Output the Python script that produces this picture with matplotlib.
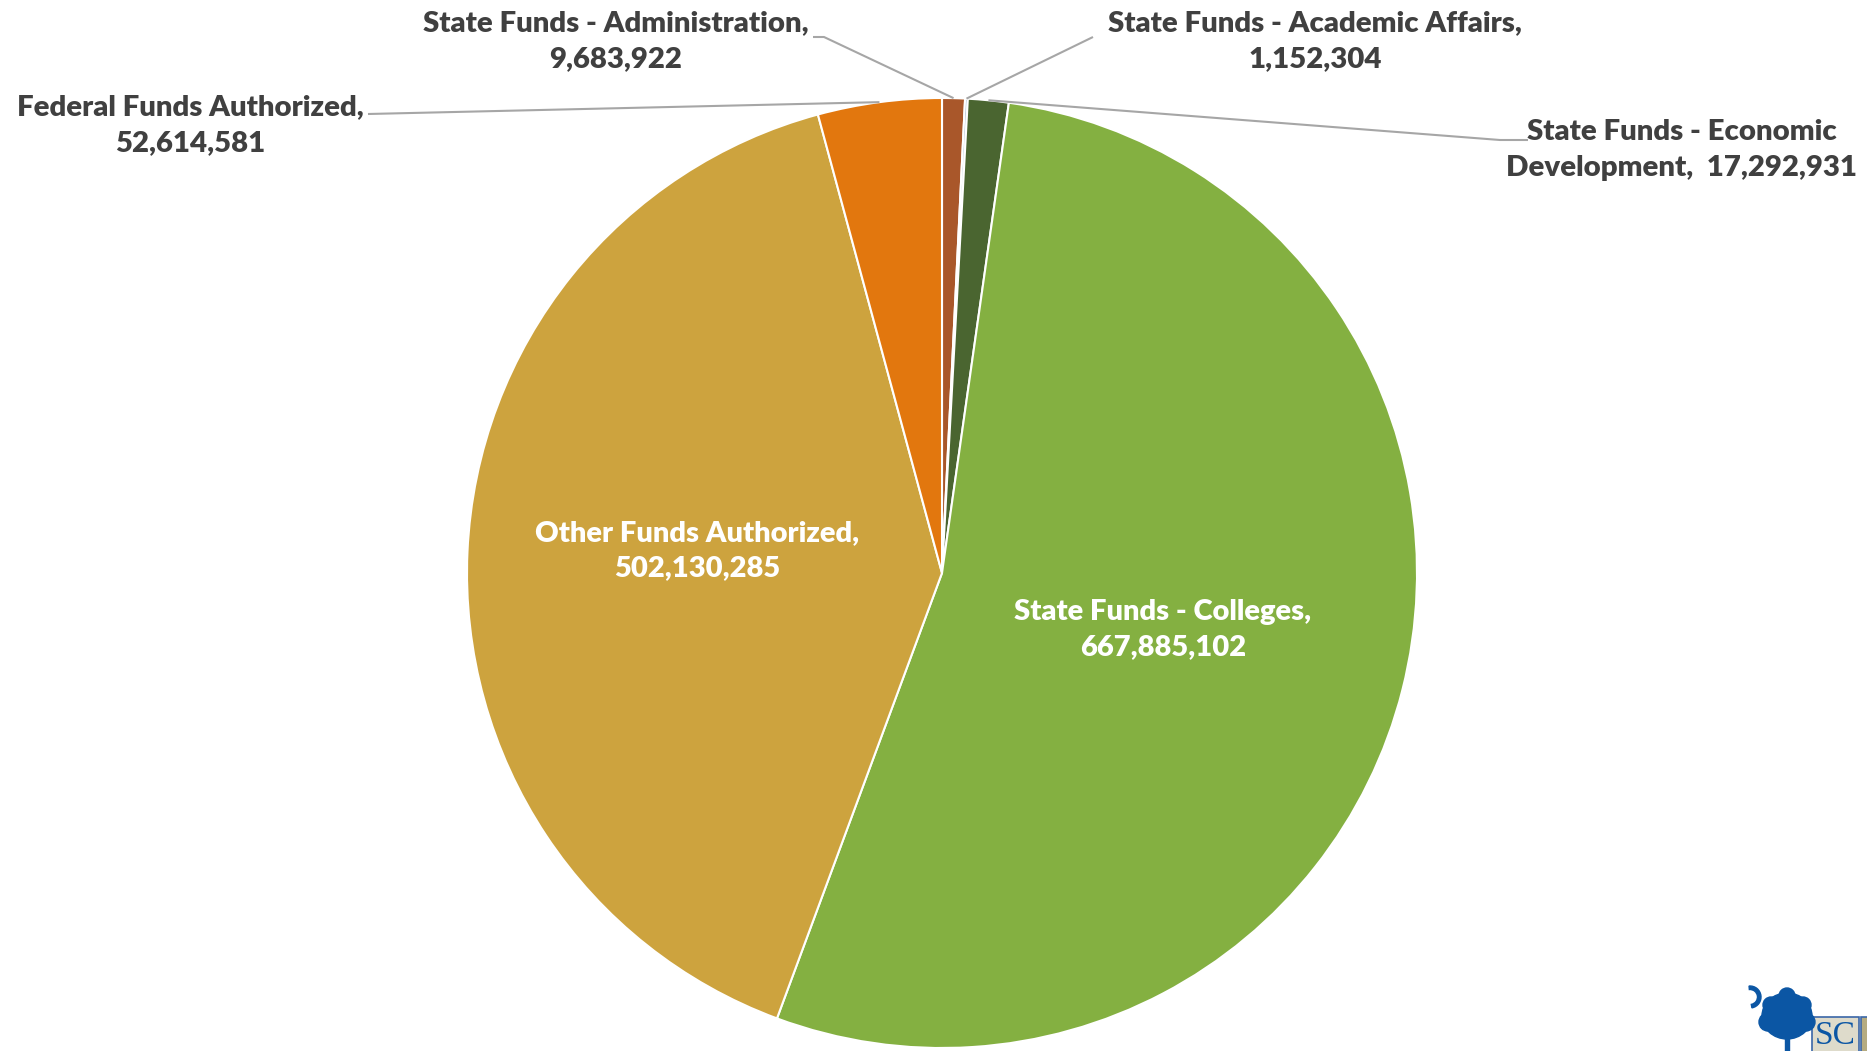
import matplotlib
matplotlib.use("Agg")
import matplotlib.pyplot as plt
from matplotlib.patches import Circle, Rectangle, Ellipse, Wedge
import numpy as np

W, H = 1867, 1051

labels = ["State Funds - Administration", "State Funds - Academic Affairs",
          "State Funds - Economic Development", "State Funds - Colleges",
          "Other Funds Authorized", "Federal Funds Authorized"]
values = [9683922, 1152304, 17292931, 667885102, 502130285, 52614581]
colors = ["#A9572A", "#9DB2C8", "#4A6530", "#84B041", "#CDA33E", "#E2770E"]

font = ["Lato", "DejaVu Sans"]
txt_col = "#404040"
line_col = "#A6A6A6"

fig = plt.figure(figsize=(W / 100, H / 100), dpi=100)
ax = fig.add_axes([0, 0, 1, 1])

cx, cy, r = 942, H - 573, 475
wedges, _ = ax.pie(values, colors=colors, startangle=90, counterclock=False,
                   center=(cx, cy), radius=r,
                   wedgeprops=dict(edgecolor="white", linewidth=1.5))
ax.set_xlim(0, W)
ax.set_ylim(0, H)
ax.set_aspect("equal")
ax.axis("off")


def edge_point(w):
    a = np.deg2rad((w.theta1 + w.theta2) / 2)
    return cx + r * np.cos(a), cy + r * np.sin(a)


def fmt(v):
    return "{:,}".format(v)


# labels inside the two big wedges
ax.text(697, H - 551, "Other Funds Authorized,\n" + fmt(values[4]),
        ha="center", va="center", color="white", fontsize=21,
        fontweight="heavy", family=font, linespacing=1.43)
ax.text(1163, H - 630, "State Funds - Colleges,\n" + fmt(values[3]),
        ha="center", va="center", color="white", fontsize=21,
        fontweight="heavy", family=font, linespacing=1.43)

# outside labels with leader lines
outer = [
    (0, "State Funds - Administration,\n" + fmt(values[0]), (616, H - 41), [(813, H - 37), (824, H - 37)]),
    (1, "State Funds - Academic Affairs,\n" + fmt(values[1]), (1315, H - 41), [(1093, H - 37)]),
    (2, "State Funds - Economic\nDevelopment,  " + fmt(values[2]), (1682, H - 150), [(1528, H - 140), (1500, H - 140)]),
    (5, "Federal Funds Authorized,\n" + fmt(values[5]), (190, H - 125), [(368, H - 114)]),
]
for i, text, (tx, ty), pts in outer:
    ax.text(tx, ty, text, ha="center", va="center", color=txt_col,
            fontsize=21.2, fontweight="heavy", family=font, linespacing=1.47)
    ex, ey = edge_point(wedges[i])
    xs = [p[0] for p in pts] + [ex]
    ys = [p[1] for p in pts] + [ey]
    ax.plot(xs, ys, color=line_col, lw=1.5, solid_capstyle="butt")

# state logo in the corner
blue = "#0B56A4"
ax.add_patch(Wedge((1750, H - 997), 11, -80, 95, width=3.5, color=blue, zorder=5))
ax.add_patch(Ellipse((1787, H - 1016), 50, 46, color=blue, zorder=5))
for (x, y, rr) in [(1768, H - 1022, 9), (1806, H - 1022, 9), (1787, H - 996, 8),
                   (1771, H - 1005, 8), (1803, H - 1005, 8)]:
    ax.add_patch(Circle((x, y), rr, color=blue, zorder=5))
ax.add_patch(Rectangle((1785, 0), 4, H - 1035, color=blue, zorder=5))
ax.add_patch(Rectangle((1812, -5), 47, H - 1017 + 5, facecolor="#DEDBCB",
                       edgecolor="#3A66A8", lw=1.2, zorder=4))
ax.add_patch(Rectangle((1861, -5), 10, H - 1017 + 5, facecolor="#B5AB80",
                       edgecolor="#3A66A8", lw=1.2, zorder=4))
ax.text(1835, H - 1036, "SC", ha="center", va="center", color=blue,
        fontsize=24, family="Liberation Serif", zorder=6)

fig.savefig("out.png", dpi=100, facecolor="white")
